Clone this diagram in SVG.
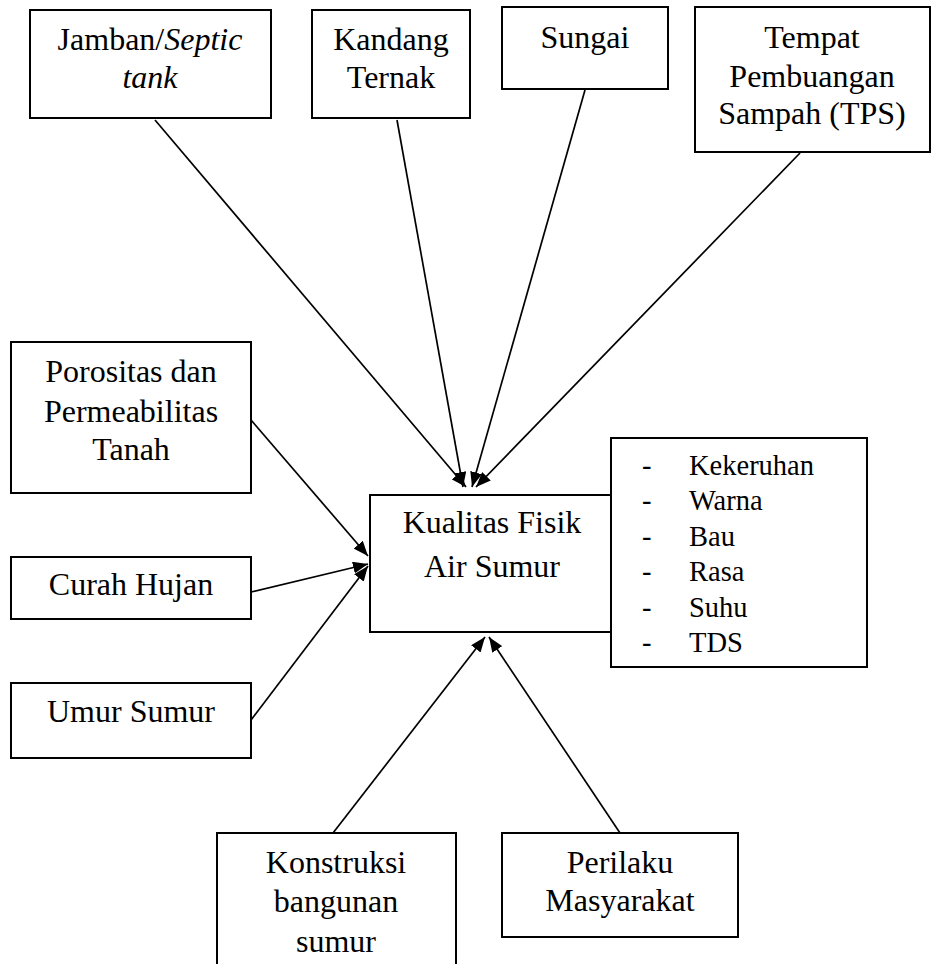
<svg xmlns="http://www.w3.org/2000/svg" width="931" height="964" viewBox="0 0 931 964">
<style>
.box{fill:#fff;stroke:#000;stroke-width:2}
.t{font-family:"Liberation Serif","Times New Roman",serif;font-size:32px;fill:#000;text-anchor:middle}
.l{font-family:"Liberation Serif","Times New Roman",serif;font-size:28.5px;fill:#000}
.c{stroke:#000;stroke-width:1.7;fill:none;marker-end:url(#ah)}
</style>
<defs>
<marker id="ah" viewBox="0 0 15 12" refX="15" refY="6" markerWidth="15" markerHeight="12" markerUnits="userSpaceOnUse" orient="auto">
<path d="M0,0 L15,6 L0,12 Z" fill="#000"/>
</marker>
</defs>
<rect width="931" height="964" fill="#fff"/>
<g id="connectors">
<line class="c" x1="155" y1="120" x2="466" y2="487"/>
<line class="c" x1="397" y1="120" x2="463" y2="487"/>
<line class="c" x1="585" y1="90" x2="472" y2="487"/>
<line class="c" x1="800" y1="153" x2="476" y2="487"/>
<line class="c" x1="251" y1="420" x2="368" y2="556"/>
<line class="c" x1="251" y1="592" x2="368" y2="564"/>
<line class="c" x1="251" y1="720" x2="368" y2="566"/>
<line class="c" x1="333" y1="833" x2="485" y2="637"/>
<line class="c" x1="620" y1="833" x2="489" y2="637"/>
</g>
<g id="jamban">
<rect class="box" x="30" y="10" width="241" height="108"/>
<text class="t" x="150" y="50">Jamban/<tspan font-style="italic">Septic</tspan></text>
<text class="t" x="150" y="88" font-style="italic">tank</text>
</g>
<g id="kandang">
<rect class="box" x="312" y="10" width="158" height="108"/>
<text class="t" x="391" y="50">Kandang</text>
<text class="t" x="391" y="88">Ternak</text>
</g>
<g id="sungai">
<rect class="box" x="502" y="7" width="166" height="82"/>
<text class="t" x="585" y="48">Sungai</text>
</g>
<g id="tps">
<rect class="box" x="695" y="7" width="235" height="145"/>
<text class="t" x="812" y="48">Tempat</text>
<text class="t" x="812" y="87">Pembuangan</text>
<text class="t" x="812" y="124">Sampah (TPS)</text>
</g>
<g id="porositas">
<rect class="box" x="11" y="342" width="240" height="151"/>
<text class="t" x="131" y="382">Porositas dan</text>
<text class="t" x="131" y="422">Permeabilitas</text>
<text class="t" x="131" y="460">Tanah</text>
</g>
<g id="curah">
<rect class="box" x="11" y="557" width="240" height="62"/>
<text class="t" x="131" y="595">Curah Hujan</text>
</g>
<g id="umur">
<rect class="box" x="11" y="683" width="240" height="75"/>
<text class="t" x="131" y="722">Umur Sumur</text>
</g>
<g id="kualitas">
<rect class="box" x="370" y="495" width="241" height="137"/>
<text class="t" x="492" y="533">Kualitas Fisik</text>
<text class="t" x="492" y="577">Air Sumur</text>
</g>
<g id="parameter">
<rect class="box" x="611" y="438" width="256" height="229"/>
<g class="l">
<text x="642" y="475">-</text><text x="689" y="475">Kekeruhan</text>
<text x="642" y="510">-</text><text x="689" y="510">Warna</text>
<text x="642" y="546">-</text><text x="689" y="546">Bau</text>
<text x="642" y="581">-</text><text x="689" y="581">Rasa</text>
<text x="642" y="617">-</text><text x="689" y="617">Suhu</text>
<text x="642" y="652">-</text><text x="689" y="652">TDS</text>
</g>
</g>
<g id="konstruksi">
<rect class="box" x="217" y="833" width="239" height="150"/>
<text class="t" x="336" y="873">Konstruksi</text>
<text class="t" x="336" y="912">bangunan</text>
<text class="t" x="336" y="952">sumur</text>
</g>
<g id="perilaku">
<rect class="box" x="502" y="833" width="236" height="104"/>
<text class="t" x="620" y="873">Perilaku</text>
<text class="t" x="620" y="911">Masyarakat</text>
</g>
</svg>
